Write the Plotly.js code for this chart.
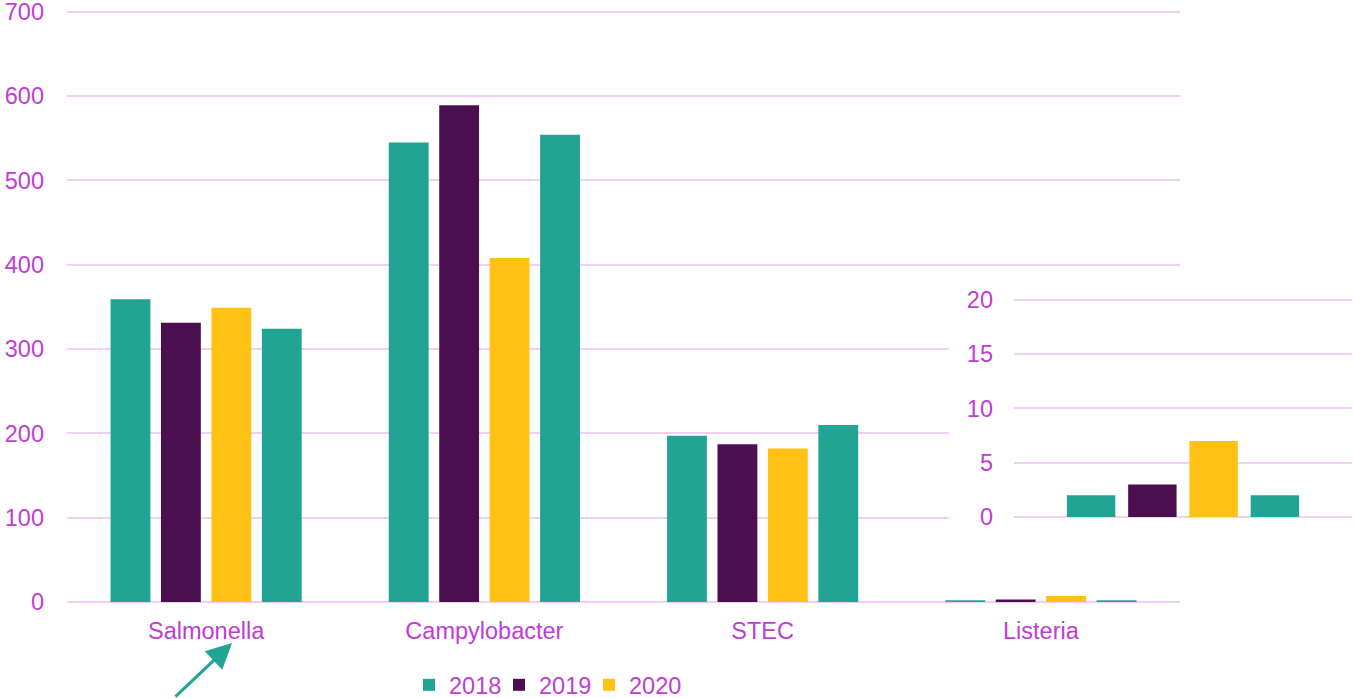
<!DOCTYPE html>
<html>
<head>
<meta charset="utf-8">
<script src="https://cdn.plot.ly/plotly-3.0.1.min.js"></script>
<style>html,body{margin:0;padding:0;background:#fff;}#chart{width:1354px;height:698px;}</style>
</head>
<body>
<div id="chart"></div>
<script>
const categories = ['Salmonella', 'Campylobacter', 'STEC', 'Listeria'];
const seriesNames = ['2018', '2019', '2020', '2021'];
const v2018 = [359, 545, 197, 2];
const v2019 = [331, 589, 187, 3];
const v2020 = [349, 408, 182, 7];
const v2021 = [324, 554, 210, 2];
const mainTicks = [0, 100, 200, 300, 400, 500, 600, 700];
const insetTicks = [0, 5, 10, 15, 20];
const insetCategory = 'Listeria';

const colors = ['#21A494', '#4B0F50', '#FFC114', '#21A494'];
const textColor = '#C13CD4';
const gridColor = '#F1CFF5';
const fontFamily = '"Liberation Sans", Arial, sans-serif';
const fs = 23.5;

const allValues = [v2018, v2019, v2020, v2021];
const idx = categories.indexOf(insetCategory);

const traces = [];
allValues.forEach((vals, i) => {
  traces.push({
    type: 'bar', name: seriesNames[i], x: categories, y: vals,
    marker: {color: colors[i]}, showlegend: i < 3,
    xaxis: 'x', yaxis: 'y'
  });
});
// white cover subplot; its zero-height bar only pads the legend box so the last label is not clipped
traces.push({type: 'bar', name: ' ', x: [0.5], y: [0], xaxis: 'x2', yaxis: 'y2', showlegend: true,
             marker: {color: 'rgba(0,0,0,0)'}, hoverinfo: 'skip'});
allValues.forEach((vals, i) => {
  traces.push({
    type: 'bar', name: seriesNames[i], x: [insetCategory], y: [vals[idx]],
    marker: {color: colors[i]}, showlegend: false,
    xaxis: 'x3', yaxis: 'y3'
  });
});

const W = 1354, H = 698;
const mainMax = 702;              // slightly above last tick so the 700 gridline is kept
const pxPerUnit = 590 / 700;
const mL = 67, mR = 0, mB = 96;
const mT = 12 - (mainMax - 700) * pxPerUnit;
const pw = W - mL - mR, ph = H - mB - mT;
const px = v => (v - mL) / pw;
const py = v => (H - mB - v) / ph;

const insetMax = 20.2;
const insetPx = (517 - 300) / 20;
const insetTop = 300 - (insetMax - 20) * insetPx;

const layout = {
  width: W, height: H,
  margin: {l: mL, r: mR, t: mT, b: mB, pad: 0, autoexpand: false},
  paper_bgcolor: '#ffffff', plot_bgcolor: '#ffffff',
  font: {family: fontFamily, size: fs, color: textColor},
  barmode: 'group', bargap: 0.275, bargroupgap: 0.21,
  showlegend: true,
  legend: {orientation: 'h', x: px(409), xanchor: 'left', y: py(685), yanchor: 'middle',
           font: {size: fs, color: textColor}, bgcolor: 'rgba(0,0,0,0)', entrywidth: 45, entrywidthmode: 'pixels',
           traceorder: 'normal'},
  xaxis: {domain: [0, px(1180)], type: 'category', range: [-0.5, 3.5], showgrid: false, showline: false,
          zeroline: false, ticks: '', tickfont: {size: fs, color: textColor}, ticklabelstandoff: 12, fixedrange: true},
  yaxis: {domain: [0, 1], range: [0, mainMax], tickvals: mainTicks, showgrid: true, gridcolor: gridColor, gridwidth: 2,
          zeroline: true, zerolinecolor: gridColor, zerolinewidth: 2, showline: false, ticks: '',
          tickfont: {size: fs, color: textColor}, ticklabelstandoff: 22, ticklabeloverflow: 'allow', fixedrange: true},
  xaxis2: {domain: [px(949), 1], anchor: 'y2', visible: false, showgrid: false, zeroline: false, range: [0, 1]},
  yaxis2: {domain: [py(540), py(280)], anchor: 'x2', visible: false, showgrid: false, zeroline: false, range: [0, 1]},
  xaxis3: {domain: [px(1014), px(1352)], anchor: 'y3', type: 'category', range: [-0.5, 0.5], showgrid: false,
           showticklabels: false, showline: false, zeroline: false, ticks: '', fixedrange: true},
  yaxis3: {domain: [py(517), py(insetTop)], anchor: 'x3', range: [0, insetMax], tickvals: insetTicks, showgrid: true,
           gridcolor: gridColor, gridwidth: 2, zeroline: true, zerolinecolor: gridColor, zerolinewidth: 2,
           showline: false, ticks: '', tickfont: {size: fs, color: textColor}, ticklabelstandoff: 20, fixedrange: true},
  annotations: [{
    xref: 'paper', yref: 'paper', x: px(232), y: py(643), text: '', showarrow: true,
    axref: 'pixel', ayref: 'pixel', ax: -58, ay: 61, arrowhead: 2, arrowsize: 1.7, arrowwidth: 3,
    arrowcolor: '#21A494', standoff: 0, startstandoff: 0
  }]
};

Plotly.newPlot('chart', traces, layout, {displayModeBar: false, staticPlot: true});
</script>
</body>
</html>
